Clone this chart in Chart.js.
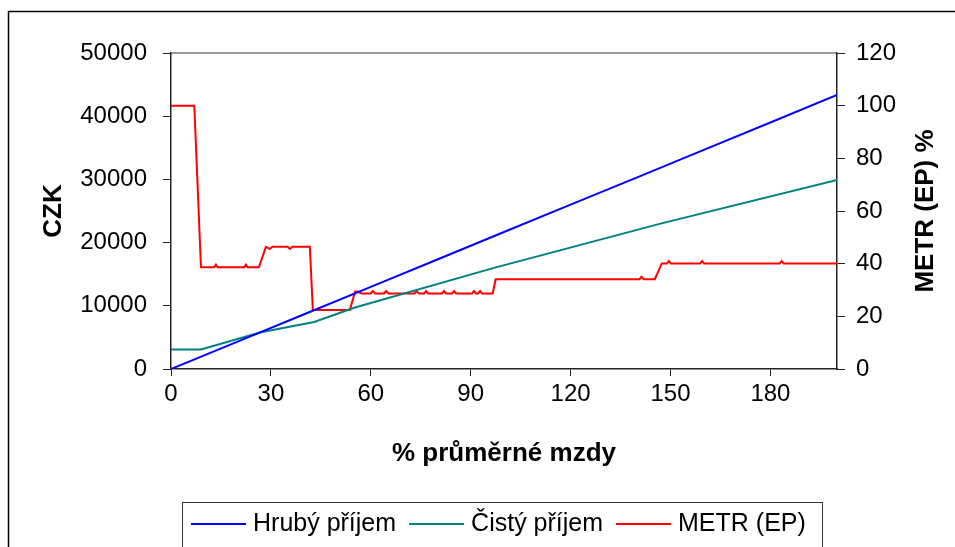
<!DOCTYPE html>
<html>
<head>
<meta charset="utf-8">
<script src="https://cdn.jsdelivr.net/npm/chart.js@4"></script>
<style>
  html, body { margin: 0; padding: 0; background: #fff; }
  canvas { display: block; }
</style>
</head>
<body>
<canvas id="chart" width="955" height="547"></canvas>
<script>
// % of average wage (x) and values
const grossX = [0, 20, 40, 60, 80, 100, 120, 140, 160, 180, 200];
const grossY = [0, 4330, 8670, 13000, 17330, 21670, 26000, 30330, 34670, 39000, 43350];

const netX = [0, 9, 27, 43, 55, 97, 147, 200];
const netY = [3100, 3100, 5800, 7450, 9700, 16000, 23000, 29900];

const metrX = [0, 7, 9, 13, 13.5, 14, 22, 22.5, 23, 26.4, 28.5, 29.7, 30.5, 35, 35.7, 36.5, 41.7, 42.6, 53.7,
  55.3, 56, 57.3, 60, 60.6, 61.3, 64, 64.6, 65.3, 73.2, 73.8, 74.4, 76, 76.6, 77.2, 81.4, 82, 82.6, 84.4, 85, 85.6,
  90.4, 91, 91.6, 92.2, 92.8, 93.4, 96.6, 97.5, 140.7, 141.3, 142, 145.3, 147.4, 149, 149.5, 150.1, 158.9, 159.5,
  160.1, 182.8, 183.4, 184, 200];
const metrY = [100, 100, 38.6, 38.6, 39.6, 38.6, 38.6, 39.6, 38.6, 38.6, 46.4, 45.6, 46.4, 46.4, 45.6, 46.4, 46.4, 22.4, 22.4,
  29.4, 29.4, 28.7, 28.7, 29.6, 28.7, 28.7, 29.6, 28.7, 28.7, 29.6, 28.7, 28.7, 29.6, 28.7, 28.7, 29.6, 28.7, 28.7, 29.6, 28.7,
  28.7, 29.6, 28.7, 28.7, 29.6, 28.7, 28.7, 34.1, 34.1, 35, 34.1, 34.1, 40.1, 40.1, 41, 40.1, 40.1, 41,
  40.1, 40.1, 41, 40.1, 40.1];

const xTicks = [0, 30, 60, 90, 120, 150, 180];
const seriesNames = ["Hrubý příjem", "Čistý příjem", "METR (EP)"];
const seriesColors = ["#0000ff", "#008080", "#ff0000"];

const FONT = "'Liberation Sans', Arial, sans-serif";

function toPoints(xs, ys) {
  return xs.map((x, i) => ({ x: x, y: ys[i] }));
}

// frame round the whole picture, gray line on top of the plot, titles and legend box
const decorations = {
  id: "decorations",
  beforeDraw(chart) {
    const ctx = chart.ctx;
    ctx.save();
    ctx.fillStyle = "#fff";
    ctx.fillRect(0, 0, chart.width, chart.height);
    ctx.strokeStyle = "#000";
    ctx.lineWidth = 1.5;
    ctx.strokeRect(8.5, 11.5, 1000, 600);
    const a = chart.chartArea;
    ctx.strokeStyle = "#9a9a9a";
    ctx.lineWidth = 2;
    ctx.beginPath();
    ctx.moveTo(a.left, a.top);
    ctx.lineTo(a.right, a.top);
    ctx.stroke();
    ctx.restore();
  },
  afterDraw(chart) {
    const ctx = chart.ctx;
    const a = chart.chartArea;
    const midY = (a.top + a.bottom) / 2;
    ctx.save();
    ctx.fillStyle = "#000";
    ctx.font = "bold 26px " + FONT;
    ctx.textAlign = "center";
    ctx.textBaseline = "alphabetic";
    ctx.fillText("% průměrné mzdy", (a.left + a.right) / 2, 461);

    ctx.save();
    ctx.translate(61, midY);
    ctx.rotate(-Math.PI / 2);
    ctx.fillText("CZK", 0, 0);
    ctx.restore();

    ctx.save();
    ctx.translate(933, midY);
    ctx.rotate(-Math.PI / 2);
    ctx.fillText("METR (EP) %", 0, 0);
    ctx.restore();

    // legend
    ctx.strokeStyle = "#333";
    ctx.lineWidth = 1;
    ctx.strokeRect(182.5, 502.5, 640, 100);
    ctx.font = "25px " + FONT;
    ctx.textAlign = "left";
    let x = 191;
    chart.data.datasets.forEach(ds => {
      ctx.strokeStyle = ds.borderColor;
      ctx.lineWidth = 2;
      ctx.beginPath();
      ctx.moveTo(x, 524);
      ctx.lineTo(x + 55, 524);
      ctx.stroke();
      ctx.fillText(ds.label, x + 62, 531);
      x += 62 + ctx.measureText(ds.label).width + 13;
    });
    ctx.restore();
  }
};

new Chart(document.getElementById("chart"), {
  type: "line",
  data: {
    datasets: [
      { label: seriesNames[0], data: toPoints(grossX, grossY), borderColor: seriesColors[0], yAxisID: "y" },
      { label: seriesNames[1], data: toPoints(netX, netY), borderColor: seriesColors[1], yAxisID: "y" },
      { label: seriesNames[2], data: toPoints(metrX, metrY), borderColor: seriesColors[2], yAxisID: "y1" }
    ]
  },
  options: {
    responsive: false,
    animation: false,
    devicePixelRatio: 1,
    layout: { padding: { top: 53, left: 0, right: 0, bottom: 0 } },
    elements: {
      point: { radius: 0 },
      line: { borderWidth: 2, tension: 0 }
    },
    plugins: {
      legend: { display: false },
      tooltip: { enabled: false }
    },
    scales: {
      x: {
        type: "linear",
        min: 0,
        max: 200,
        afterBuildTicks: s => { s.ticks = xTicks.map(v => ({ value: v })); },
        afterFit: s => { s.height = 178; },
        grid: { drawOnChartArea: false, color: "#222", tickLength: 7 },
        border: { color: "#222", width: 1.5 },
        ticks: { color: "#000", font: { family: FONT, size: 24 }, padding: 4, maxRotation: 0 }
      },
      y: {
        position: "left",
        min: 0,
        max: 50000,
        afterFit: s => { s.width = 171; },
        grid: { drawOnChartArea: false, color: "#222", tickLength: 8 },
        border: { color: "#222", width: 1.5 },
        ticks: { stepSize: 10000, color: "#000", font: { family: FONT, size: 24 }, padding: 16,
          format: { useGrouping: false } }
      },
      y1: {
        position: "right",
        min: 0,
        max: 120,
        afterFit: s => { s.width = 118; },
        grid: { drawOnChartArea: false, color: "#222", tickLength: 8 },
        border: { color: "#222", width: 1.5 },
        ticks: { stepSize: 20, color: "#000", font: { family: FONT, size: 24 }, padding: 11 }
      }
    }
  },
  plugins: [decorations]
});
</script>
</body>
</html>
